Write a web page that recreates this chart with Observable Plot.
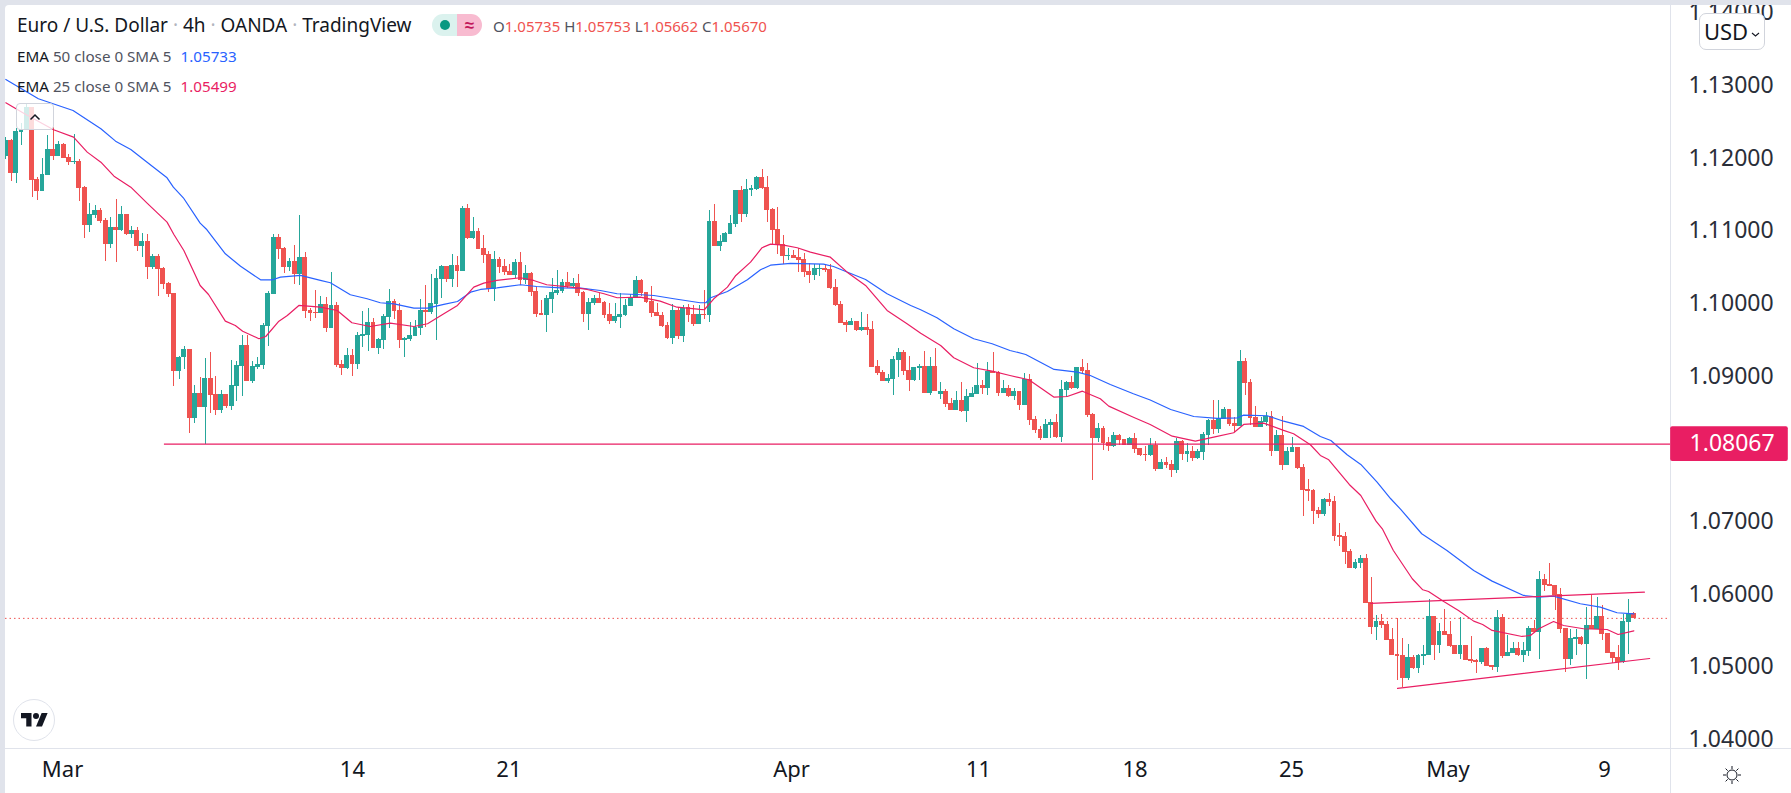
<!DOCTYPE html>
<html>
<head>
<meta charset="utf-8">
<title>Euro / U.S. Dollar 4h</title>
<script src="https://cdn.jsdelivr.net/npm/d3@7"></script>
<script src="https://cdn.jsdelivr.net/npm/@observablehq/plot@0.6"></script>
<style>
  html, body { margin: 0; padding: 0; width: 1791px; height: 793px; overflow: hidden; background: #e0e3eb; font-family: "Noto Sans", sans-serif; color: #131722; }
  #chart { position: absolute; left: 5px; top: 5px; width: 1786px; height: 788px; overflow: hidden; background: #fff; border-top-left-radius: 4px; }
  .over { position: absolute; white-space: nowrap; }
  .title { left: 17px; top: 13px; font-size: 19px; line-height: 25px; }
  .title i { font-style: normal; color: #b2b5be; }
  .ohlc { left: 493px; top: 15px; font-size: 15px; line-height: 22px; color: #ef5350; }
  .ohlc b { font-weight: normal; color: #50535e; }
  .study { left: 17px; font-size: 15.2px; line-height: 20px; color: #50535e; }
  .study b { font-weight: normal; color: #131722; }
  .study span { margin-left: 9px; }
  .pill { left: 432px; top: 14px; width: 50px; height: 22px; border-radius: 11px; overflow: hidden; display: flex; }
  .pill div { width: 25px; height: 22px; position: relative; text-align: center; }
  .usd { left: 1699px; top: 13px; width: 64px; height: 35px; border: 1px solid #d1d4dc; border-radius: 7px; background: #fff; font-size: 22px; line-height: 34px; text-align: center; }
  .collapse { left: 16px; top: 103px; width: 36px; height: 25px; border: 1px solid #d1d4dc; border-radius: 4px; background: rgba(255,255,255,.8); }
  .logo { left: 13px; top: 699px; width: 40px; height: 40px; border: 1px solid #e0e3eb; border-radius: 50%; background: #fff; }
</style>
</head>
<body>
<div id="chart"></div>
<div class="over title">Euro / U.S. Dollar <i>·</i> 4h <i>·</i> OANDA <i>·</i> TradingView</div>
<div class="over pill">
  <div style="background:#dbf2ee"><svg width="25" height="22"><circle cx="13" cy="11" r="5" fill="#089981"></circle></svg></div>
  <div style="background:#f8bbd0;color:#c2185b;font-size:17px;line-height:21px;font-weight:bold">≈</div>
</div>
<div class="over ohlc"><b>O</b>1.05735 <b>H</b>1.05753 <b>L</b>1.05662 <b>C</b>1.05670</div>
<div class="over study" style="top:46px"><b>EMA</b> 50 close 0 SMA 5<span style="color:#2962ff">1.05733</span></div>
<div class="over study" style="top:76px"><b>EMA</b> 25 close 0 SMA 5<span style="color:#e91e63">1.05499</span></div>
<div class="over collapse"><svg width="36" height="25"><path d="M13.5 15.5l4.5-4.5 4.5 4.5" fill="none" stroke="#131722" stroke-width="1.5"></path></svg></div>
<div class="over usd">USD<svg width="9" height="6" style="margin-left:3px;vertical-align:2px"><path d="M1 1l3.5 3 3.5-3" fill="none" stroke="#131722" stroke-width="1.1"></path></svg></div>
<div class="over logo"><svg width="40" height="40" viewBox="0 0 40 40"><g transform="translate(7 13) scale(0.75)" fill="#131722"><path d="M14 18H7V7H0V0h14v18zM28 18h-8l7.500-18h8L28 18z"></path><circle cx="20" cy="4" r="4"></circle></g></svg></div>
<div class="over" style="left:1722px;top:765px"><svg width="20" height="20" fill="none" stroke="#131722" stroke-width="1"><circle cx="10" cy="10" r="5"></circle><path d="M10 1v3M10 16v3M1 10h3M16 10h3M3.600 3.600l2.100 2.100M14.300 14.300l2.100 2.100M3.600 16.400l2.100-2.100M14.300 5.700l2.100-2.100"></path></svg></div>

<script>
// Candles, one value per 4h bar, oldest first
const opens = [
  1.12023, 1.12243, 1.11794, 1.12358, 1.12390, 1.12702, 1.11707, 1.11546, 1.11767, 1.12120,
  1.12028, 1.12188, 1.12010, 1.11945, 1.11955, 1.11597, 1.11079, 1.11212, 1.11280, 1.11143,
  1.10817, 1.11047, 1.11005, 1.11225, 1.10955, 1.11005, 1.10790, 1.10854, 1.10496, 1.10648,
  1.10483, 1.10276, 1.10139, 1.09071, 1.09259, 1.09369, 1.08424, 1.08763, 1.08575, 1.08970,
  1.08750, 1.08534, 1.08750, 1.08589, 1.08864, 1.09139, 1.09424, 1.08933, 1.09125, 1.09153,
  1.09689, 1.10130, 1.10909, 1.10758, 1.10501, 1.10579, 1.10405, 1.10634, 1.09900, 1.09877,
  1.09868, 1.09987, 1.09657, 1.09974, 1.09162, 1.09112, 1.09286, 1.09162, 1.09547, 1.09561,
  1.09740, 1.09382, 1.09497, 1.09809, 1.10029, 1.09905, 1.09497, 1.09506, 1.09547, 1.09657,
  1.09905, 1.09877, 1.09987, 1.10331, 1.10510, 1.10331, 1.10524, 1.10441, 1.11308, 1.10896,
  1.10992, 1.10758, 1.10676, 1.10194, 1.10607, 1.10511, 1.10442, 1.10387, 1.10566, 1.10318,
  1.10414, 1.10167, 1.09864, 1.09837, 1.10057, 1.10139, 1.10167, 1.10291, 1.10236, 1.10277,
  1.10153, 1.09850, 1.10002, 1.10070, 1.10015, 1.09850, 1.09754, 1.09809, 1.09837, 1.09960,
  1.10070, 1.10318, 1.10153, 1.10029, 1.09878, 1.09837, 1.09699, 1.09520, 1.09905, 1.09548,
  1.09947, 1.09850, 1.09713, 1.09854, 1.09841, 1.11129, 1.10785, 1.10840, 1.10950, 1.11088,
  1.11555, 1.11225, 1.11555, 1.11569, 1.11734, 1.11597, 1.11294, 1.11019, 1.10813, 1.10648,
  1.10661, 1.10634, 1.10606, 1.10441, 1.10386, 1.10469, 1.10482, 1.10469, 1.10221, 1.09987,
  1.09740, 1.09698, 1.09753, 1.09630, 1.09671, 1.09643, 1.09134, 1.09052, 1.08928, 1.08956,
  1.09217, 1.09327, 1.09079, 1.08942, 1.09107, 1.09134, 1.08763, 1.09135, 1.08749, 1.08791,
  1.08626, 1.08529, 1.08667, 1.08516, 1.08708, 1.08749, 1.08873, 1.08832, 1.09066, 1.09052,
  1.08763, 1.08832, 1.08722, 1.08791, 1.08598, 1.08956, 1.08406, 1.08268, 1.08144, 1.08323,
  1.08364, 1.08158, 1.08804, 1.08914, 1.08832, 1.09121, 1.09079, 1.08474, 1.08144, 1.08282,
  1.08089, 1.08034, 1.08185, 1.08130, 1.08048, 1.08144, 1.08007, 1.07924, 1.07910, 1.08048,
  1.07718, 1.07814, 1.07786, 1.07704, 1.08103, 1.07924, 1.07965, 1.07869, 1.07951, 1.08185,
  1.08392, 1.08268, 1.08405, 1.08543, 1.08350, 1.08309, 1.09203, 1.08914, 1.08433, 1.08295,
  1.08364, 1.08447, 1.07965, 1.08185, 1.07773, 1.07951, 1.08020, 1.07745, 1.07443, 1.07429,
  1.07154, 1.07099, 1.07305, 1.07277, 1.06810, 1.06796, 1.06590, 1.06356, 1.06425, 1.06493,
  1.05888, 1.05544, 1.05627, 1.05586, 1.05380, 1.05173, 1.05160, 1.04843, 1.05132, 1.04981,
  1.05146, 1.05160, 1.05696, 1.05297, 1.05490, 1.05449, 1.05297, 1.05173, 1.05297, 1.05105,
  1.05091, 1.05063, 1.05256, 1.05022, 1.04995, 1.05682, 1.05146, 1.05187, 1.05256, 1.05160,
  1.05215, 1.05531, 1.05476, 1.06205, 1.06136, 1.06123, 1.05999, 1.05531, 1.05105, 1.05380,
  1.05407, 1.05311, 1.05572, 1.05517, 1.05696, 1.05462, 1.05201, 1.05132, 1.05063, 1.05614,
  1.05735
];
const highs = [
  1.12289, 1.12260, 1.12404, 1.12473, 1.12757, 1.12702, 1.11739, 1.12000, 1.12312, 1.12427,
  1.12230, 1.12197, 1.12051, 1.12326, 1.11982, 1.11611, 1.11377, 1.11349, 1.11308, 1.11170,
  1.11184, 1.11432, 1.11336, 1.11225, 1.11060, 1.11051, 1.10964, 1.10950, 1.10671, 1.10675,
  1.10496, 1.10295, 1.10139, 1.09272, 1.09414, 1.09369, 1.08873, 1.08988, 1.09245, 1.09327,
  1.08997, 1.08805, 1.08750, 1.09217, 1.09203, 1.09561, 1.09561, 1.09203, 1.09263, 1.09722,
  1.10166, 1.10950, 1.10950, 1.10772, 1.10620, 1.10799, 1.11212, 1.10703, 1.09932, 1.10180,
  1.10098, 1.10084, 1.10428, 1.10015, 1.09217, 1.09382, 1.09369, 1.09602, 1.09891, 1.09932,
  1.09795, 1.09520, 1.09850, 1.10194, 1.10056, 1.10001, 1.09534, 1.09740, 1.09767, 1.10056,
  1.10249, 1.10400, 1.10469, 1.10524, 1.10510, 1.10675, 1.10648, 1.11335, 1.11363, 1.11185,
  1.11033, 1.10937, 1.10717, 1.10717, 1.10634, 1.10607, 1.10538, 1.10607, 1.10703, 1.10524,
  1.10428, 1.10222, 1.10043, 1.10112, 1.10346, 1.10456, 1.10332, 1.10428, 1.10346, 1.10401,
  1.10167, 1.10070, 1.10112, 1.10139, 1.10029, 1.10002, 1.10002, 1.10139, 1.10057, 1.10125,
  1.10373, 1.10332, 1.10153, 1.10236, 1.10000, 1.09878, 1.09740, 1.09988, 1.09947, 1.09974,
  1.09988, 1.09974, 1.09974, 1.10180, 1.11280, 1.11363, 1.10936, 1.10978, 1.11211, 1.11555,
  1.11610, 1.11707, 1.11624, 1.11748, 1.11844, 1.11748, 1.11308, 1.11322, 1.10936, 1.10758,
  1.10730, 1.10758, 1.10689, 1.10551, 1.10537, 1.10537, 1.10537, 1.10537, 1.10331, 1.10029,
  1.09767, 1.09795, 1.09753, 1.09877, 1.09850, 1.09753, 1.09217, 1.09079, 1.09024, 1.09272,
  1.09382, 1.09355, 1.09272, 1.09121, 1.09162, 1.09341, 1.09258, 1.09382, 1.08914, 1.08818,
  1.08694, 1.08791, 1.08914, 1.08818, 1.08846, 1.09176, 1.08942, 1.09190, 1.09327, 1.09066,
  1.08942, 1.08873, 1.08832, 1.08791, 1.09038, 1.09024, 1.08447, 1.08309, 1.08406, 1.08406,
  1.08474, 1.08942, 1.08928, 1.08997, 1.09121, 1.09231, 1.09176, 1.08488, 1.08350, 1.08309,
  1.08158, 1.08227, 1.08199, 1.08130, 1.08158, 1.08213, 1.08007, 1.08034, 1.08144, 1.08103,
  1.07855, 1.07883, 1.07841, 1.08144, 1.08116, 1.08075, 1.08034, 1.07993, 1.08227, 1.08405,
  1.08667, 1.08667, 1.08570, 1.08543, 1.08433, 1.09354, 1.09244, 1.08956, 1.08584, 1.08433,
  1.08502, 1.08515, 1.08254, 1.08447, 1.08020, 1.08158, 1.08020, 1.07786, 1.07580, 1.07443,
  1.07195, 1.07319, 1.07387, 1.07346, 1.06975, 1.06851, 1.06617, 1.06480, 1.06535, 1.06548,
  1.06232, 1.05709, 1.05723, 1.05627, 1.05531, 1.05669, 1.05394, 1.05311, 1.05160, 1.05173,
  1.05297, 1.05930, 1.05696, 1.05600, 1.05792, 1.05627, 1.05297, 1.05682, 1.05297, 1.05421,
  1.05105, 1.05256, 1.05270, 1.05022, 1.05779, 1.05724, 1.05435, 1.05339, 1.05339, 1.05339,
  1.05559, 1.05641, 1.06315, 1.06274, 1.06425, 1.06123, 1.06081, 1.05531, 1.05517, 1.05517,
  1.05421, 1.05820, 1.05985, 1.05958, 1.05847, 1.05462, 1.05201, 1.05297, 1.05724, 1.05930,
  1.05753
];
const lows = [
  1.11987, 1.11684, 1.11656, 1.12175, 1.12390, 1.11464, 1.11418, 1.11546, 1.11767, 1.11968,
  1.12028, 1.12000, 1.11904, 1.11909, 1.11409, 1.10900, 1.10982, 1.11175, 1.11106, 1.10584,
  1.10762, 1.10570, 1.10996, 1.10937, 1.10900, 1.10721, 1.10634, 1.10336, 1.10474, 1.10102,
  1.10194, 1.10088, 1.08864, 1.08960, 1.09098, 1.08218, 1.08355, 1.08575, 1.08057, 1.08493,
  1.08465, 1.08493, 1.08562, 1.08529, 1.08658, 1.08727, 1.08933, 1.08905, 1.09098, 1.09098,
  1.09414, 1.10130, 1.10606, 1.10418, 1.10441, 1.10267, 1.10249, 1.09795, 1.09758, 1.09795,
  1.09868, 1.09607, 1.09657, 1.09121, 1.09015, 1.09093, 1.08997, 1.09093, 1.09396, 1.09341,
  1.09382, 1.09300, 1.09369, 1.09657, 1.09781, 1.09382, 1.09258, 1.09479, 1.09547, 1.09561,
  1.09671, 1.09850, 1.09492, 1.10070, 1.10290, 1.10221, 1.10221, 1.10441, 1.10882, 1.10882,
  1.10744, 1.10552, 1.10153, 1.10029, 1.10414, 1.10387, 1.10387, 1.10346, 1.10249, 1.10263,
  1.10098, 1.09809, 1.09837, 1.09603, 1.09864, 1.10112, 1.10139, 1.10208, 1.10208, 1.10098,
  1.09740, 1.09630, 1.09974, 1.10002, 1.09795, 1.09713, 1.09727, 1.09658, 1.09823, 1.09960,
  1.10070, 1.10098, 1.10002, 1.09809, 1.09823, 1.09672, 1.09507, 1.09438, 1.09507, 1.09465,
  1.09740, 1.09685, 1.09713, 1.09781, 1.09740, 1.10785, 1.10716, 1.10840, 1.10950, 1.11046,
  1.11115, 1.11184, 1.11473, 1.11555, 1.11569, 1.11115, 1.10813, 1.10675, 1.10537, 1.10592,
  1.10620, 1.10427, 1.10359, 1.10276, 1.10317, 1.10372, 1.10427, 1.10194, 1.09960, 1.09726,
  1.09602, 1.09698, 1.09616, 1.09616, 1.09561, 1.09121, 1.09011, 1.08928, 1.08901, 1.08736,
  1.08983, 1.09011, 1.08791, 1.08928, 1.08942, 1.08763, 1.08736, 1.08791, 1.08681, 1.08571,
  1.08529, 1.08529, 1.08502, 1.08364, 1.08708, 1.08749, 1.08749, 1.08736, 1.09038, 1.08722,
  1.08763, 1.08708, 1.08667, 1.08529, 1.08598, 1.08323, 1.08213, 1.08117, 1.08144, 1.08144,
  1.08144, 1.08089, 1.08708, 1.08818, 1.08818, 1.09024, 1.08433, 1.07566, 1.08089, 1.07979,
  1.07965, 1.08020, 1.08048, 1.08048, 1.08048, 1.07938, 1.07897, 1.07828, 1.07897, 1.07690,
  1.07718, 1.07731, 1.07608, 1.07663, 1.07841, 1.07814, 1.07828, 1.07855, 1.07841, 1.08048,
  1.08199, 1.08213, 1.08405, 1.08309, 1.08227, 1.08309, 1.08735, 1.08323, 1.08295, 1.08295,
  1.08309, 1.07896, 1.07965, 1.07704, 1.07773, 1.07951, 1.07718, 1.07071, 1.07277, 1.06961,
  1.07044, 1.07071, 1.07209, 1.06727, 1.06658, 1.06411, 1.06356, 1.06342, 1.06356, 1.05874,
  1.05448, 1.05365, 1.05531, 1.05365, 1.05160, 1.04816, 1.04720, 1.04816, 1.04967, 1.04912,
  1.05022, 1.05160, 1.05091, 1.05187, 1.05435, 1.05270, 1.05173, 1.05105, 1.05091, 1.05050,
  1.04912, 1.05036, 1.05008, 1.04953, 1.04926, 1.05118, 1.05146, 1.05187, 1.05146, 1.05063,
  1.05146, 1.05476, 1.05105, 1.06040, 1.06109, 1.05779, 1.05462, 1.04926, 1.05022, 1.05160,
  1.05297, 1.04830, 1.05517, 1.05517, 1.05366, 1.05187, 1.05050, 1.04953, 1.05050, 1.05173,
  1.05662
];
const closes = [
  1.12243, 1.11794, 1.12367, 1.12390, 1.12702, 1.11698, 1.11546, 1.11776, 1.12120, 1.12028,
  1.12188, 1.12000, 1.11945, 1.11955, 1.11588, 1.11079, 1.11225, 1.11280, 1.11134, 1.10817,
  1.11047, 1.11010, 1.11225, 1.10955, 1.11005, 1.10790, 1.10854, 1.10501, 1.10648, 1.10474,
  1.10267, 1.10130, 1.09071, 1.09259, 1.09369, 1.08424, 1.08763, 1.08575, 1.08970, 1.08740,
  1.08534, 1.08750, 1.08589, 1.08873, 1.09148, 1.09424, 1.08933, 1.09135, 1.09162, 1.09699,
  1.10139, 1.10909, 1.10749, 1.10501, 1.10579, 1.10400, 1.10634, 1.09896, 1.09864, 1.09868,
  1.09987, 1.09657, 1.09974, 1.09148, 1.09112, 1.09286, 1.09162, 1.09561, 1.09575, 1.09740,
  1.09382, 1.09506, 1.09822, 1.10029, 1.09891, 1.09497, 1.09520, 1.09561, 1.09671, 1.09905,
  1.09877, 1.10001, 1.10345, 1.10510, 1.10331, 1.10524, 1.10441, 1.11308, 1.10895, 1.10992,
  1.10744, 1.10662, 1.10194, 1.10607, 1.10497, 1.10428, 1.10387, 1.10566, 1.10318, 1.10414,
  1.10153, 1.09850, 1.09837, 1.10070, 1.10153, 1.10180, 1.10291, 1.10236, 1.10277, 1.10139,
  1.09850, 1.10015, 1.10070, 1.10002, 1.09837, 1.09754, 1.09823, 1.09850, 1.09974, 1.10084,
  1.10318, 1.10135, 1.10015, 1.09864, 1.09823, 1.09685, 1.09520, 1.09905, 1.09548, 1.09933,
  1.09837, 1.09713, 1.09850, 1.09841, 1.11129, 1.10785, 1.10854, 1.10964, 1.11101, 1.11555,
  1.11225, 1.11569, 1.11583, 1.11734, 1.11583, 1.11280, 1.11005, 1.10803, 1.10648, 1.10661,
  1.10620, 1.10592, 1.10427, 1.10386, 1.10482, 1.10482, 1.10455, 1.10207, 1.09974, 1.09726,
  1.09698, 1.09753, 1.09630, 1.09671, 1.09630, 1.09121, 1.09038, 1.08928, 1.08969, 1.09231,
  1.09327, 1.09066, 1.08942, 1.09121, 1.09134, 1.08763, 1.09134, 1.08791, 1.08791, 1.08612,
  1.08529, 1.08667, 1.08516, 1.08722, 1.08763, 1.08873, 1.08832, 1.09066, 1.09038, 1.08763,
  1.08832, 1.08722, 1.08791, 1.08598, 1.08956, 1.08392, 1.08254, 1.08144, 1.08337, 1.08364,
  1.08158, 1.08818, 1.08914, 1.08832, 1.09121, 1.09066, 1.08461, 1.08144, 1.08282, 1.08075,
  1.08034, 1.08185, 1.08117, 1.08048, 1.08144, 1.07993, 1.07910, 1.07910, 1.08048, 1.07718,
  1.07814, 1.07773, 1.07704, 1.08103, 1.07924, 1.07965, 1.07869, 1.07965, 1.08199, 1.08392,
  1.08268, 1.08419, 1.08543, 1.08337, 1.08309, 1.09203, 1.08901, 1.08419, 1.08295, 1.08378,
  1.08447, 1.07965, 1.08185, 1.07773, 1.07965, 1.08020, 1.07731, 1.07429, 1.07415, 1.07140,
  1.07099, 1.07305, 1.07264, 1.06796, 1.06782, 1.06576, 1.06356, 1.06438, 1.06493, 1.05874,
  1.05544, 1.05627, 1.05572, 1.05365, 1.05160, 1.05146, 1.04843, 1.05132, 1.04981, 1.05160,
  1.05173, 1.05696, 1.05297, 1.05490, 1.05435, 1.05284, 1.05173, 1.05297, 1.05091, 1.05077,
  1.05063, 1.05256, 1.05008, 1.04995, 1.05682, 1.05146, 1.05201, 1.05256, 1.05160, 1.05228,
  1.05531, 1.05476, 1.06205, 1.06123, 1.06109, 1.05985, 1.05517, 1.05105, 1.05394, 1.05407,
  1.05311, 1.05572, 1.05517, 1.05696, 1.05449, 1.05187, 1.05118, 1.05063, 1.05627, 1.05737,
  1.05670
];

// EMA lines, read at the bends of each line
const ema50Bars = [
  0, 6.2, 12.8, 18.1, 20.9, 23.8, 26.9, 30.7, 31.9, 33.8, 37, 38.3, 41.8, 44.7, 45.4, 48.5, 50.8, 52.3,
  56.1, 59.9, 61.8, 65.6, 68.8, 71.3, 73.9, 77.7, 80.3, 83.4, 86, 88.5, 90.4, 93.5, 98, 101.1, 105.6, 109.5,
  113.2, 116.4, 120.2, 123.4, 127.2, 132.2, 133.3, 134.2, 137.4, 141.2, 143.7, 145.6, 149.4, 155.7, 157.6,
  163.7, 167.8, 172.3, 174.2, 177.3, 180.5, 184.3, 187.8, 191.2, 194.2, 199.6, 204, 206.5, 210.3, 214.7,
  217.9, 221.8, 226.2, 230.7, 234.5, 235.7, 240.2, 243.3, 247.1, 250.3, 252.3, 255.4, 258, 261.1, 263.7,
  265.6, 269.6, 274.4, 279.5, 283, 289, 291.9, 294.7, 299.8, 303.6, 306.8, 310
];
const ema50Values = [
  1.13083, 1.12817, 1.12656, 1.12404, 1.12234, 1.12120, 1.11945, 1.11730, 1.11601, 1.11455, 1.11106, 1.11015, 1.10685, 1.10514, 1.10479, 1.10327, 1.10327, 1.10363,
  1.10387, 1.10318, 1.10286, 1.10121, 1.10066, 1.10011, 1.09997, 1.09937, 1.09937, 1.09988, 1.10029, 1.10157, 1.10194, 1.10217, 1.10259, 1.10235, 1.10217, 1.10212,
  1.10180, 1.10135, 1.10125, 1.10111, 1.10066, 1.10011, 1.10011, 1.10080, 1.10166, 1.10327, 1.10465, 1.10528, 1.10552, 1.10542, 1.10510,
  1.10332, 1.10135, 1.09974, 1.09915, 1.09805, 1.09653, 1.09516, 1.09447, 1.09355, 1.09300, 1.09094, 1.09056, 1.09011, 1.08887, 1.08759,
  1.08674, 1.08543, 1.08447, 1.08420, 1.08429, 1.08465, 1.08457, 1.08382, 1.08310, 1.08172, 1.08117, 1.07920, 1.07787, 1.07543, 1.07315,
  1.07168, 1.06834, 1.06604, 1.06329, 1.06182, 1.05985, 1.05962, 1.05975, 1.05871, 1.05824, 1.05747, 1.05733
];
const ema25Bars = [
  0, 3.4, 9.1, 12.9, 15.5, 18.1, 20.6, 23.8, 26.9, 30.7, 32, 33.9, 37, 38.6, 41.8, 43.7, 45.1, 48.2, 49.5, 52,
  53.6, 55.8, 59.9, 63.1, 65.9, 69.4, 73.2, 77.7, 80.3, 83.4, 86, 89.1, 91, 93.5, 98, 100.5, 103, 107.6, 110.7,
  113.9, 116.4, 120.8, 124.6, 127.8, 132.2, 133, 134.8, 137.4, 139, 141.8, 144, 145.6, 148.1, 150.7, 153.2, 157,
  160.2, 163.7, 167.8, 171.6, 174.2, 178, 180.5, 184.3, 187.8, 191.2, 194.8, 199.6, 202.1, 205, 208.4, 210,
  214.7, 217.9, 222.1, 226.5, 230, 233.8, 235.7, 239.5, 243.3, 245.2, 248.4, 250.3, 251.9, 255.8, 258, 260.9,
  262.1, 264.2, 267.8, 269.8, 270.9, 273.8, 276.6, 279.5, 281.2, 283, 288.7, 290.3, 291.9, 294.7, 296.6, 300.4,
  304.9, 307, 310
];
const ema25Values = [
  1.12762, 1.12619, 1.12391, 1.12289, 1.12083, 1.11945, 1.11752, 1.11601, 1.11381, 1.11120, 1.10950, 1.10730, 1.10249, 1.10125, 1.09758, 1.09699, 1.09620, 1.09516, 1.09547, 1.09758,
  1.09836, 1.09974, 1.09950, 1.09905, 1.09736, 1.09685, 1.09730, 1.09685, 1.09722, 1.09860, 1.09974, 1.10226, 1.10281, 1.10318, 1.10355, 1.10318, 1.10259, 1.10226, 1.10194,
  1.10135, 1.10080, 1.10088, 1.10033, 1.09950, 1.09919, 1.09915, 1.10066, 1.10226, 1.10387, 1.10570, 1.10768, 1.10817, 1.10803, 1.10768, 1.10707, 1.10638,
  1.10432, 1.10249, 1.09905, 1.09722, 1.09593, 1.09424, 1.09255, 1.09117, 1.09070, 1.09011, 1.08952, 1.08713, 1.08722, 1.08795, 1.08690, 1.08589,
  1.08437, 1.08337, 1.08176, 1.08107, 1.08162, 1.08223, 1.08337, 1.08355, 1.08255, 1.08209, 1.08058, 1.07911, 1.07851, 1.07512, 1.07360, 1.07007,
  1.06902, 1.06604, 1.06215, 1.06063, 1.06040, 1.05902, 1.05779, 1.05632, 1.05586, 1.05504, 1.05421, 1.05435, 1.05527, 1.05627, 1.05572, 1.05527,
  1.05517, 1.05448, 1.05499
];

// Drawn levels and channel lines
const supportPrice = 1.08067;
const supportStartBar = 30.2;
const channelUpperBars = [259.9, 312];
const channelUpperValues = [1.05875, 1.0603];
const channelLowerBars = [265, 313];
const channelLowerValues = [1.04706, 1.05118];
const lastPrice = 1.0567;

// Axes
const priceTicks = [1.04, 1.05, 1.06, 1.07, 1.09, 1.10, 1.11, 1.12, 1.13, 1.14];
const tickBars = [10.8, 66, 95.8, 149.6, 185.2, 215, 244.8, 274.6, 304.4];
const tickLabels = ['Mar', '14', '21', 'Apr', '11', '18', '25', 'May', '9'];
const barDomain = [-0.06, 316.97];
const priceDomain = [1.0388, 1.141];

const upColor = '#26a69a';
const downColor = '#ef5350';
const lineRed = '#e91e63';
const axisLine = '#e0e3eb';
const labelBars = [317, 339.4];
const labelHalf = 0.00238;
const labelCenterBar = 328.7;

const candles = opens.map((open, i) => ({
  bar: i,
  open,
  high: highs[i],
  low: lows[i],
  close: closes[i],
  color: closes[i] >= open ? upColor : downColor
}));
const toLine = (bars, values) => bars.map((bar, i) => ({ bar, value: values[i] }));

const chart = Plot.plot({
  width: 1786,
  height: 788,
  marginLeft: 0,
  marginTop: 0,
  marginRight: 121,
  marginBottom: 45,
  style: { fontFamily: '"Noto Sans", sans-serif', overflow: 'hidden', background: 'transparent' },
  x: { domain: barDomain, axis: null },
  y: { domain: priceDomain, axis: null },
  color: { type: 'identity' },
  marks: [
    Plot.axisY({ anchor: 'right', ticks: priceTicks, tickSize: 0, tickPadding: 18, tickFormat: d3.format('.5f'), fontSize: 23, fill: '#2a2e39', label: null }),
    Plot.axisX({ anchor: 'bottom', ticks: tickBars, tickSize: 0, tickPadding: 13, tickFormat: d => tickLabels[tickBars.indexOf(d)], fontSize: 22, fill: '#131722', label: null }),
    Plot.ruleY([priceDomain[0]], { x1: barDomain[0], x2: 345, stroke: axisLine, shapeRendering: 'crispEdges' }),
    Plot.ruleX([barDomain[1]], { y1: priceDomain[1], y2: 1.02, stroke: axisLine, shapeRendering: 'crispEdges' }),
    Plot.ruleY([lastPrice], { x1: barDomain[0], x2: barDomain[1], stroke: downColor, strokeDasharray: '1.5 3' }),
    Plot.ruleX(candles, { x: 'bar', y1: 'low', y2: 'high', stroke: 'color', strokeWidth: 1, shapeRendering: 'crispEdges' }),
    Plot.rect(candles, { x1: d => d.bar - 0.46, x2: d => d.bar + 0.46, y1: 'open', y2: 'close', fill: 'color', shapeRendering: 'crispEdges' }),
    Plot.line(toLine(ema50Bars, ema50Values), { x: 'bar', y: 'value', stroke: '#2962ff', strokeWidth: 1.2 }),
    Plot.line(toLine(ema25Bars, ema25Values), { x: 'bar', y: 'value', stroke: lineRed, strokeWidth: 1.2 }),
    Plot.ruleY([supportPrice], { x1: supportStartBar, x2: barDomain[1], stroke: lineRed, strokeWidth: 1.2 }),
    Plot.line(toLine(channelUpperBars, channelUpperValues), { x: 'bar', y: 'value', stroke: lineRed, strokeWidth: 1.2 }),
    Plot.line(toLine(channelLowerBars, channelLowerValues), { x: 'bar', y: 'value', stroke: lineRed, strokeWidth: 1.2 }),
    Plot.rect([supportPrice], { x1: labelBars[0], x2: labelBars[1], y1: d => d - labelHalf, y2: d => d + labelHalf, fill: lineRed, rx: 2 }),
    Plot.text([supportPrice], { x: labelCenterBar, y: d => d, text: d => d3.format('.5f')(d), fill: '#fff', fontSize: 23 })
  ]
});
document.getElementById('chart').append(chart);
</script>
</body>
</html>
